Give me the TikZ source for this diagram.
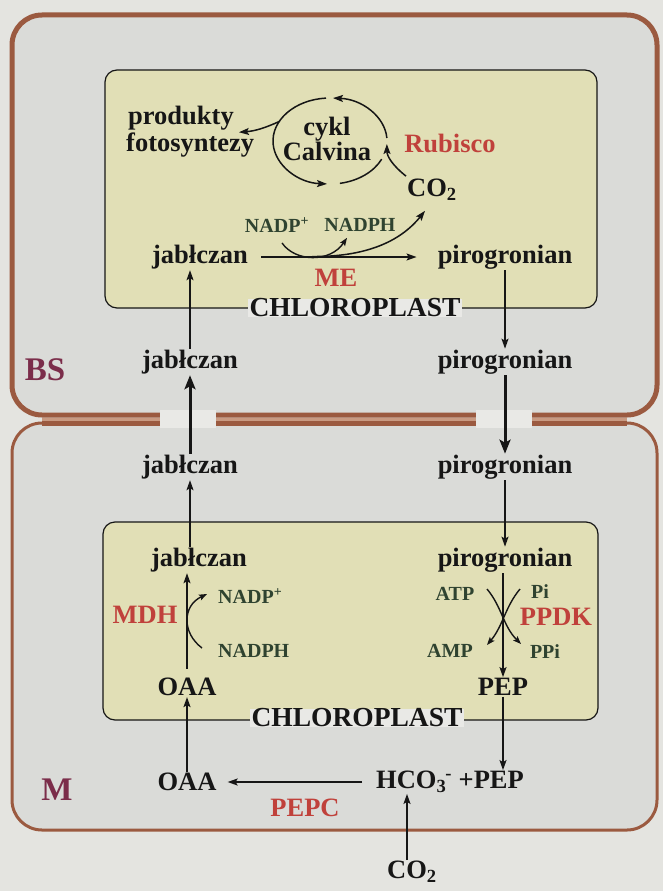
\documentclass[tikz,border=0pt]{standalone}
\usepackage{fontspec}
\setmainfont{Liberation Serif}
\usetikzlibrary{arrows.meta,calc}
\definecolor{brownb}{HTML}{9B5A40}
\definecolor{stripe}{HTML}{C99A82}
\definecolor{cellbg}{HTML}{DADBD8}
\definecolor{pagebg}{HTML}{E4E4E0}
\definecolor{gapbg}{HTML}{E9E9E6}
\definecolor{chlbg}{HTML}{E1DFB6}
\definecolor{enz}{HTML}{C0413B}
\definecolor{cof}{HTML}{2F4330}
\definecolor{lbl}{HTML}{7B2D4A}
\definecolor{ink}{HTML}{161616}
\tikzset{
 met/.style={font=\fontsize{26.5}{27}\selectfont\bfseries, text=ink, inner sep=1pt},
 enzyme/.style={font=\fontsize{26.5}{27}\selectfont\bfseries, text=enz, inner sep=1pt},
 cofac/.style={font=\fontsize{20}{22}\selectfont\bfseries, text=cof, inner sep=1pt},
 cellname/.style={font=\fontsize{33}{35}\selectfont\bfseries, text=lbl, inner sep=1pt},
 chlabel/.style={font=\fontsize{27.5}{29}\selectfont\bfseries, text=ink, fill=gapbg, inner xsep=2pt, inner ysep=0pt},
 cell/.style={draw=brownb, fill=cellbg, rounded corners=30pt},
 chloro/.style={draw=ink, fill=chlbg, line width=1.2pt, rounded corners=12pt},
 flow/.style={draw=ink, line width=1.5pt, -{Stealth[length=10pt,width=7pt,inset=2pt]}},
 smallflow/.style={draw=ink, line width=1.4pt, -{Stealth[length=8pt,width=6pt,inset=1.5pt]}},
 plain/.style={draw=ink, line width=1.5pt},
 bigflow/.style={draw=ink, line width=3pt, -{Stealth[length=14pt,width=11pt,inset=3pt]}},
}
\begin{document}
\begin{tikzpicture}[x=1pt,y=-1pt]
\useasboundingbox (0,0) rectangle (663,891);
\fill[pagebg] (0,0) rectangle (663,891);
% cells
\draw[cell, line width=3pt] (12,423) rectangle (657,830);
\draw[cell, line width=5pt] (12,15) rectangle (657,415);
\draw[brownb, line width=5pt] (42,423) -- (627,423);
\fill[stripe] (42,417.5) rectangle (627,420.5);
\fill[gapbg] (160,410) rectangle (216,428);
\fill[gapbg] (476,410) rectangle (532,428);
% chloroplasts
\draw[chloro] (105,70) rectangle (597,308);
\draw[chloro] (103,522) rectangle (598,720);

% ---- bundle sheath chloroplast
\node[met, anchor=west] (prod1) at (127,118) {produkty};
\node[met, anchor=west] (prod2) at (125,145) {fotosyntezy};
\node[met, align=center, font=\fontsize{26.5}{24}\selectfont\bfseries] (calvin) at (327,139) {cykl\\Calvina};
\coordinate (cyc) at (330,141);
\node[enzyme] (rub) at (450,143) {Rubisco};
\node[met] (co2a) at (432,190) {CO\textsubscript{2}};
\node[cofac] (nadpa) at (277,225) {NADP\textsuperscript{+}};
\node[cofac] (nadpha) at (360,225) {NADPH};
\node[met] (malA) at (200,257) {jabłczan};
\node[met] (pyrA) at (505,257) {pirogronian};
\node[enzyme] (me) at (336,278) {ME};
\node[chlabel] (chlA) at (355,308) {CHLOROPLAST};

% Calvin cycle
\draw[flow] ([shift={(266:57 and 43)}]cyc) arc[start angle=266, end angle=93, x radius=57, y radius=43];
\draw[plain] ([shift={(80:57 and 43)}]cyc) arc[start angle=80, end angle=25, x radius=57, y radius=43];
\draw[flow] ([shift={(356:57 and 43)}]cyc) arc[start angle=356, end angle=273, x radius=57, y radius=43];
\draw[flow] ($(co2a.north west)+(0,-2)$) .. controls (392,165) and (387,156) .. ([shift={(4:57 and 43)}]cyc);
\draw[flow] ([shift={(207:57 and 43)}]cyc) .. controls (265,128) and (255,131) .. ($(prod1.south east)+(4,1)$);

% ME
\draw[flow, shorten <=12pt, shorten >=20pt] (malA.east) -- (pyrA.west);
\draw[smallflow] ($(nadpa.south)+(5,9)$) .. controls (295,262) and (330,263) .. ($(nadpha.south)+(-13,5)$);
\draw[flow] (312,256.5) .. controls (365,257) and (400,242) .. ($(co2a.south)+(-7,9)$);

% ---- bundle sheath cytosol
\node[met] (malB) at (190,362) {jabłczan};
\node[met] (pyrB) at (505,362) {pirogronian};
\node[cellname] (bs) at (45,370) {BS};
\draw[flow] (malB.north) -- (malB.north |- malA.south);
\draw[flow] (pyrA.south) -- (pyrB.north);

% ---- mesophyll
\node[met] (malM) at (190,467) {jabłczan};
\node[met] (pyrM) at (505,467) {pirogronian};
\draw[bigflow] (malM.north) -- (malB.south);
\draw[bigflow] (pyrB.south) -- (pyrM.north);

\node[met] (malC) at (199,560) {jabłczan};
\node[met] (pyrC) at (505,560) {pirogronian};
\draw[flow] (malC.north -| malM.south) -- (malM.south);
\draw[flow] (pyrM.south) -- (pyrC.north);

\node[enzyme] (mdh) at (145,615) {MDH};
\node[cofac, anchor=west] (nadpb) at (217,596) {NADP\textsuperscript{+}};
\node[cofac, anchor=west] (nadphb) at (217,651) {NADPH};
\node[met] (oaaC) at (187,687) {OAA};
\node[met] (pepC) at (503,687) {PEP};
\draw[flow, shorten <=8pt] (oaaC.north) -- (oaaC.north |- malC.south);
\draw[smallflow] ($(nadphb.west)+(-15,-3)$) .. controls (182,633) and (182,606) .. ($(nadpb.west)+(-10,-2)$);

\node[cofac] (atp) at (455,594) {ATP};
\node[cofac] (pi) at (540,592) {Pi};
\node[enzyme] (ppdk) at (556,617) {PPDK};
\node[cofac] (amp) at (450,651) {AMP};
\node[cofac] (ppi) at (545,652) {PPi};
\draw[flow] (pyrC.south -| pepC.north) -- (pepC.north);
\draw[smallflow] (487,589) .. controls (502,607) and (503,626) .. (521,644);
\draw[smallflow] (520,589) .. controls (505,607) and (503,626) .. (487,645);

\node[chlabel] (chlB) at (357,718) {CHLOROPLAST};

\node[met] (oaaM) at (187,782) {OAA};
\node[met, anchor=west] (hco) at (375,782) {HCO\textsubscript{3}\textsuperscript{\kern-1pt-} +PEP};
\node[enzyme] (pepc) at (305,808) {PEPC};
\node[met] (co2b) at (412,872) {CO\textsubscript{2}};
\node[cellname] (m) at (57,790) {M};
\coordinate (co2top) at ($(co2b.north)+(-5,0)$);
\draw[flow] (oaaM.north) -- (oaaC.south);
\draw[flow] (pepC.south) -- (pepC.south |- hco.north);
\draw[flow, shorten <=13pt, shorten >=10pt] (hco.west) -- (oaaM.east);
\draw[flow] (co2top) -- (co2top |- hco.south);
\end{tikzpicture}
\end{document}
